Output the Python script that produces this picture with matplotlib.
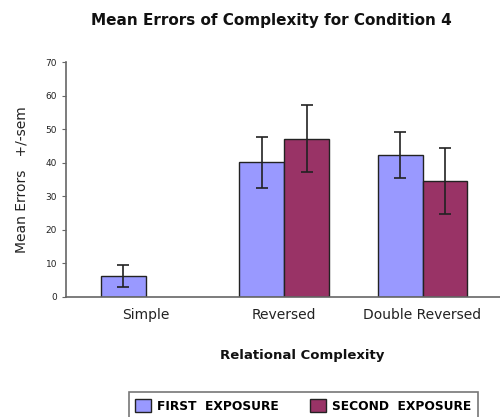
import numpy as np
import matplotlib
matplotlib.use("Agg")
from matplotlib import pyplot as plt

categories = ["Simple", "Reversed", "Double Reversed"]
first_mean = [6.3, 40.1, 42.3]
first_sem = [3.3, 7.5, 6.8]
second_mean = [0, 47.2, 34.6]
second_sem = [0, 9.9, 9.8]
series_names = ["FIRST  EXPOSURE", "SECOND  EXPOSURE"]

c1 = "#9999FF"
c2 = "#993366"

fig = plt.figure(figsize=(5, 4.17), dpi=100)
ax = fig.add_axes([0.132, 0.288, 0.868, 0.563])

x = np.arange(len(categories))
w = 0.325
ax.bar(x - w/2, first_mean, w, color=c1, edgecolor="#222222", linewidth=1,
       yerr=first_sem, capsize=4, error_kw=dict(elinewidth=1.2, capthick=1.2, ecolor="#222222"),
       label=series_names[0])
# Simple has no second exposure bar
m2 = np.array(second_mean) > 0
ax.bar(x[m2] + w/2, np.array(second_mean)[m2], w, color=c2, edgecolor="#222222", linewidth=1,
       yerr=np.array(second_sem)[m2], capsize=4,
       error_kw=dict(elinewidth=1.2, capthick=1.2, ecolor="#222222"),
       label=series_names[1])

ax.set_xlim(-0.578, 2.56)
ax.set_ylim(0, 70)
ax.set_yticks(range(0, 71, 10))
ax.set_xticks(x)
ax.set_xticklabels(categories, fontsize=10, color="#222222")
ax.tick_params(axis="x", length=0, pad=8)
ax.tick_params(axis="y", labelsize=6.5, length=3, color="#666666", labelcolor="#222222")
for s in ["top", "right"]:
    ax.spines[s].set_visible(False)
for s in ["left", "bottom"]:
    ax.spines[s].set_color("#666666")
    ax.spines[s].set_linewidth(1.2)

ax.set_ylabel("Mean Errors   +/-sem", fontsize=10, color="#222222", labelpad=12)

fig.text(0.543, 0.952, "Mean Errors of Complexity for Condition 4", ha="center", va="center",
         fontsize=11, fontweight="bold", color="#111111")
fig.text(0.604, 0.148, "Relational Complexity", ha="center", va="center",
         fontsize=9.5, fontweight="bold", color="#111111")

leg = fig.legend(loc="upper left", bbox_to_anchor=(0.245, 0.074), ncol=2, frameon=True,
                 fancybox=False, edgecolor="#555555", handlelength=1.3, handleheight=1.3,
                 handletextpad=0.5, columnspacing=2.5, borderpad=0.55,
                 prop=dict(size=8.8, weight="bold"))
leg.get_frame().set_linewidth(1.2)

fig.savefig("out.png", dpi=100)
